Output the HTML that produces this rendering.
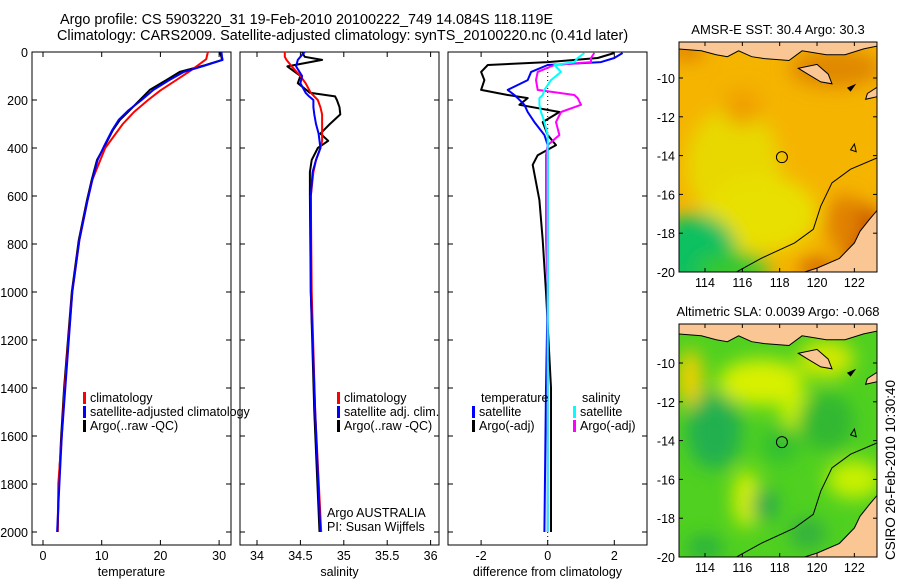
<!DOCTYPE html>
<html><head><meta charset="utf-8">
<style>
html,body{margin:0;padding:0;background:#fff;}
svg{display:block;font-family:"Liberation Sans",sans-serif;}
text{font-size:12.5px;fill:#000;}
.big{font-size:14.4px;}
</style></head>
<body>
<svg id="c" width="900" height="580" viewBox="0 0 900 580" xmlns="http://www.w3.org/2000/svg">
<defs>
<filter id="bl" x="-50%" y="-50%" width="200%" height="200%"><feGaussianBlur stdDeviation="9"/></filter>
<clipPath id="m1c"><rect x="679" y="42" width="198" height="230"/></clipPath>
<clipPath id="m2c"><rect x="679" y="324" width="198" height="233"/></clipPath>
</defs>
<text class="big" x="60" y="24">Argo profile: CS 5903220_31 19-Feb-2010 20100222_749 14.084S 118.119E</text>
<text class="big" x="57" y="40">Climatology: CARS2009. Satellite-adjusted climatology: synTS_20100220.nc (0.41d later)</text>
<g id="plots"></g>
<g id="maps"></g>
<text style="font-size:13.5px" transform="translate(895,470) rotate(-90)" text-anchor="middle">CSIRO 26-Feb-2010 10:30:40</text>
</svg>
<script>
// ---------- data ----------
const depthT = [0,20,33,55,83,117,158,200,242,283,325,388,450,533,617,783,1000,1400,1600,1800,2000];
const argoTemp = [30.1,30.4,30.5,27.6,23.3,21.0,18.2,16.5,14.8,13.1,11.9,10.6,9.2,8.3,7.5,6.1,4.9,3.6,3.1,2.7,2.5];
const climDepth = [0,30,50,80,120,160,200,250,300,400,533,617,783,1000,1400,1600,1800,2000];
const climTemp = [28.1,27.8,26.7,25.0,22.5,20.0,17.9,15.5,13.6,10.6,8.4,7.6,6.2,5.0,3.7,3.2,2.6,2.5];
const satTemp = [30.4,30.5,30.6,27.8,24.0,21.5,18.8,16.8,14.6,12.9,11.8,10.5,9.3,8.4,7.6,6.2,5.0,3.8,3.2,2.8,2.4];

const depthS = [0,20,33,60,100,130,170,185,200,230,260,300,340,370,400,450,500,600,1000,1500,2000];
const argoSal = [34.52,34.55,34.75,34.35,34.50,34.47,34.61,34.90,34.92,34.95,34.96,34.84,34.73,34.82,34.70,34.63,34.61,34.61,34.62,34.66,34.72];
const climSal = [34.32,34.32,34.34,34.40,34.50,34.56,34.62,34.66,34.70,34.73,34.75,34.75,34.75,34.75,34.73,34.68,34.65,34.62,34.63,34.67,34.74];
const satSal = [34.55,34.50,34.47,34.45,34.52,34.50,34.56,34.60,34.65,34.65,34.66,34.68,34.71,34.72,34.73,34.68,34.64,34.62,34.62,34.67,34.73];

const depthD = [4,25,42,54,83,117,158,179,192,220,250,292,346,388,430,470,617,783,1000,1400,2000];
const diffArgoT = [2.0,1.5,0.0,-1.8,-2.0,-1.9,-2.0,-1.2,-0.6,-0.85,0.35,-0.15,0.0,0.25,-0.3,-0.45,-0.25,-0.15,-0.05,0.1,0.1];
const diffSatT = [2.25,2.0,1.6,0.0,-0.5,-0.6,-1.2,-1.0,-0.9,-0.7,-0.6,-0.4,-0.1,0.0,0.0,0.0,0.0,0.0,0.0,-0.05,-0.1];
const diffArgoS = [1.4,1.3,1.3,0.2,-0.3,-0.35,-0.3,0.8,0.9,1.0,0.4,0.25,0.35,0.0,-0.05,-0.05,-0.05,-0.05,0.0,0.0,0.0];
const diffSatS = [1.1,0.9,0.8,0.2,0.4,0.1,-0.1,-0.15,-0.25,-0.25,-0.2,-0.1,0.0,0.0,0.0,0.0,0.0,0.0,0.0,0.0,0.0];

const depthTicks = [0,200,400,600,800,1000,1200,1400,1600,1800,2000];
const tempTicks = [0,10,20,30];
const salTicks = [34,34.5,35,35.5,36];
const diffTicks = [-2,0,2];
const latTicks = [-10,-12,-14,-16,-18,-20];
const lonTicks = [114,116,118,120,122];

// ---------- helpers ----------
const NS='http://www.w3.org/2000/svg';
function mk(tag, attrs, parent){const e=document.createElementNS(NS,tag);for(const k in attrs)e.setAttribute(k,attrs[k]);parent.appendChild(e);return e;}
const plots=document.getElementById('plots');
const yD = d => 52 + d*0.24;
const pTop=52, pBot=545;

function panel(name,x0,x1,xs,ticks,fmt,label,showY){
  const g=mk('g',{},plots);
  
  
  const r=mk('rect',{x:x0,y:pTop,width:x1-x0,height:pBot-pTop,fill:'none',stroke:'#000','stroke-width':1},g);
  
  
  depthTicks.forEach(d=>{
    const y=yD(d);
    mk('line',{x1:x0,x2:x0+5,y1:y,y2:y,stroke:'#000'},g);
    mk('line',{x1:x1-5,x2:x1,y1:y,y2:y,stroke:'#000'},g);
    if(showY){const t=mk('text',{x:x0-4,y:y+5,'text-anchor':'end'},g);t.textContent=d;
      
      }
  });
  ticks.forEach(v=>{
    const x=xs(v);
    mk('line',{x1:x,x2:x,y1:pBot,y2:pBot-5,stroke:'#000'},g);
    mk('line',{x1:x,x2:x,y1:pTop,y2:pTop+5,stroke:'#000'},g);
    const t=mk('text',{x:x,y:pBot+15,'text-anchor':'middle'},g);t.textContent=fmt(v);
    
    
  });
  const lt=mk('text',{x:(x0+x1)/2,y:pBot+31,'text-anchor':'middle'},g);lt.textContent=label;
  
  
  return g;
}
function series(g,name,depths,vals,xs,color,w){
  const pts=depths.map((d,i)=>xs(vals[i]).toFixed(1)+','+yD(d).toFixed(1)).join(' ');
  const p=mk('polyline',{points:pts,fill:'none',stroke:color,'stroke-width':w||2,'stroke-linejoin':'round'},g);
  
  
}
function legend(g,x,y,color,text,name){
  mk('rect',{x:x,y:y-10,width:3,height:12,fill:color},g);
  const t=mk('text',{x:x+7,y:y},g);t.textContent=text;
  
  
}

// ---------- panel 1 ----------
const xT=v=>43+v*5.87;
const g1=panel('temperature-panel',32,231,xT,tempTicks,v=>v,'temperature',true);
series(g1,'argo-temperature-line',depthT,argoTemp,xT,'#000');
series(g1,'climatology-temperature-line',climDepth,climTemp,xT,'#f00');
series(g1,'satellite-temperature-line',depthT,satTemp,xT,'#00f');
legend(g1,83,402,'#f00','climatology','legend-climatology');
legend(g1,83,416,'#00f','satellite-adjusted climatology','legend-satellite');
legend(g1,83,430,'#000','Argo(..raw -QC)','legend-argo');

// ---------- panel 2 ----------
const xS=v=>257+(v-34)*86.8;
const g2=panel('salinity-panel',240,439,xS,salTicks,v=>v,'salinity',false);
series(g2,'argo-salinity-line',depthS,argoSal,xS,'#000');
series(g2,'climatology-salinity-line',depthS,climSal,xS,'#f00');
series(g2,'satellite-salinity-line',depthS,satSal,xS,'#00f');
legend(g2,337,402,'#f00','climatology','legend-sal-climatology');
legend(g2,337,416,'#00f','satellite adj. clim.','legend-sal-satellite');
legend(g2,337,430,'#000','Argo(..raw -QC)','legend-sal-argo');
const a1=mk('text',{x:327,y:517},g2);a1.textContent='Argo AUSTRALIA';


const a2=mk('text',{x:327,y:531},g2);a2.textContent='PI: Susan Wijffels';



// ---------- panel 3 ----------
const xDf=v=>547.7+v*33.3;
const g3=panel('difference-panel',448,647,xDf,diffTicks,v=>v,'difference from climatology',false);
mk('line',{x1:xDf(0),x2:xDf(0),y1:pTop,y2:pBot,stroke:'#000','stroke-dasharray':'1,3'},g3);
series(g3,'argo-temp-diff-line',depthD,diffArgoT,xDf,'#000');
series(g3,'satellite-temp-diff-line',depthD,diffSatT,xDf,'#00f');
series(g3,'argo-sal-diff-line',depthD,diffArgoS,xDf,'#f0f');
series(g3,'satellite-sal-diff-line',depthD,diffSatS,xDf,'#0ff');
const tl=mk('text',{x:481,y:402},g3);tl.textContent='temperature';


const sl=mk('text',{x:582,y:402},g3);sl.textContent='salinity';


legend(g3,472,416,'#00f','satellite','legend-temp-satellite');
legend(g3,472,430,'#000','Argo(-adj)','legend-temp-argo');
legend(g3,573,416,'#0ff','satellite','legend-sal-satellite-diff');
legend(g3,573,430,'#f0f','Argo(-adj)','legend-sal-argo-diff');

// ---------- maps ----------
const maps=document.getElementById('maps');
function map(name,y0,y1,yTop,clip,title,blobs,base){
  const lx=lon=>705+(lon-114)*18.67;
  const ly=lat=>yTop+(-lat-10)*((y1-yTop)/10);
  const g=mk('g',{},maps);
  
  
  const inner=mk('g',{'clip-path':'url(#'+clip+')'},g);
  mk('rect',{x:679,y:y0,width:198,height:y1-y0,fill:base},inner);
  const bg=mk('g',{filter:'url(#bl)'},inner);
  blobs.forEach(b=>mk('ellipse',{cx:lx(b[0]),cy:ly(b[1]),rx:b[2]*18.67,ry:b[3]*19.3,fill:b[4]},bg));
  const land='#f9c694';
  const P=a=>a.map(p=>lx(p[0]).toFixed(1)+','+ly(p[1]).toFixed(1)).join(' ');
  mk('polygon',{points:P([[112.5,-7.5],[123.5,-7.5],[123.5,-8.3],[122.5,-8.5],[121.5,-8.8],[120.5,-8.8],[119.2,-8.6],[118.5,-9.1],[117.2,-9.0],[116.5,-8.9],[115.8,-8.6],[115.2,-8.9],[114.6,-8.8],[113.8,-8.6],[112.5,-8.5]]),fill:land,stroke:'#000','stroke-width':1},inner);
  mk('polygon',{points:P([[119.0,-9.5],[120.0,-9.3],[120.6,-9.8],[120.8,-10.3],[120.2,-10.2],[119.5,-9.8]]),fill:land,stroke:'#000'},inner);
  mk('polygon',{points:P([[121.6,-10.5],[122.1,-10.3],[121.8,-10.7]]),fill:'#000'},inner);
  mk('polygon',{points:P([[122.7,-10.8],[123.5,-10.3],[123.5,-10.9],[122.6,-11.1]]),fill:land,stroke:'#000'},inner);
  mk('polygon',{points:P([[123.5,-16.5],[122.8,-17.3],[122.3,-17.9],[122,-18.5],[121.2,-19.3],[120,-19.8],[119,-20.1],[123.5,-20.1]]),fill:land,stroke:'#000'},inner);
  mk('polyline',{points:P([[115.5,-20.1],[117,-19.3],[118.8,-18.5],[119.8,-17.8],[120.2,-16.6],[120.8,-15.4],[121.8,-14.7],[123.5,-14]]),fill:'none',stroke:'#000','stroke-width':1},inner);
  mk('polygon',{points:P([[121.8,-13.7],[122.0,-13.4],[122.1,-13.8]]),fill:'none',stroke:'#000'},inner);
  mk('circle',{cx:lx(118.12),cy:ly(-14.08),r:5.5,fill:'none',stroke:'#000','stroke-width':1},g);
  mk('rect',{x:679,y:y0,width:198,height:y1-y0,fill:'none',stroke:'#000'},g);
  latTicks.forEach(l=>{const y=ly(l);
    mk('line',{x1:679,x2:683,y1:y,y2:y,stroke:'#000'},g);
    mk('line',{x1:873,x2:877,y1:y,y2:y,stroke:'#000'},g);
    const t=mk('text',{x:675,y:y+5,'text-anchor':'end'},g);t.textContent=l;
    
    });
  lonTicks.forEach(l=>{const x=lx(l);
    mk('line',{x1:x,x2:x,y1:y1,y2:y1-4,stroke:'#000'},g);
    mk('line',{x1:x,x2:x,y1:y0,y2:y0+4,stroke:'#000'},g);
    const t=mk('text',{x:x,y:y1+15,'text-anchor':'middle'},g);t.textContent=l;
    
    });
  const tt=mk('text',{x:778,y:y0-8,'text-anchor':'middle',style:'font-size:13px'},g);tt.textContent=title;
  
  
}
map('sst-map',42,272,78,'m1c','AMSR-E SST: 30.4 Argo: 30.3',[
  [115.5,-14.5,2.5,3,'#e8d800'],[117,-17,3,2,'#e8e000'],[113.5,-19,2.2,2,'#10c060'],[115.5,-19.8,2,0.8,'#30c830'],
  [121,-9.5,2.5,1,'#e08800'],[116,-11.5,1,1,'#f0a000'],[122.5,-18.5,1,2,'#c04000'],[121.5,-17.5,1,1.5,'#e08000'],[120,-19.8,1,0.5,'#d06000'],[113,-8.6,1,0.5,'#e08000']
],'#f5b400');
map('sla-map',324,557,363,'m2c','Altimetric SLA: 0.0039 Argo: -0.068',[
  [113.2,-10.8,0.7,1.5,'#f0d000'],[117,-11,2.3,1.2,'#d8f000'],[120.5,-9.8,1.5,1,'#d0e800'],[119,-12.5,1,1,'#c8f000'],
  [114.5,-13.5,1.5,2,'#20b050'],[120.5,-13,1.5,1.5,'#30b830'],[118,-14.2,1,1,'#30c030'],[116.2,-17,0.7,1.5,'#d8f000'],
  [122,-16,1.5,1,'#c8f000'],[117.2,-17.3,0.7,0.8,'#20a850'],[119.5,-18.8,1,0.8,'#30b040'],[114,-19.5,1,0.6,'#28b040']
],'#50d020');
</script>
</body></html>
